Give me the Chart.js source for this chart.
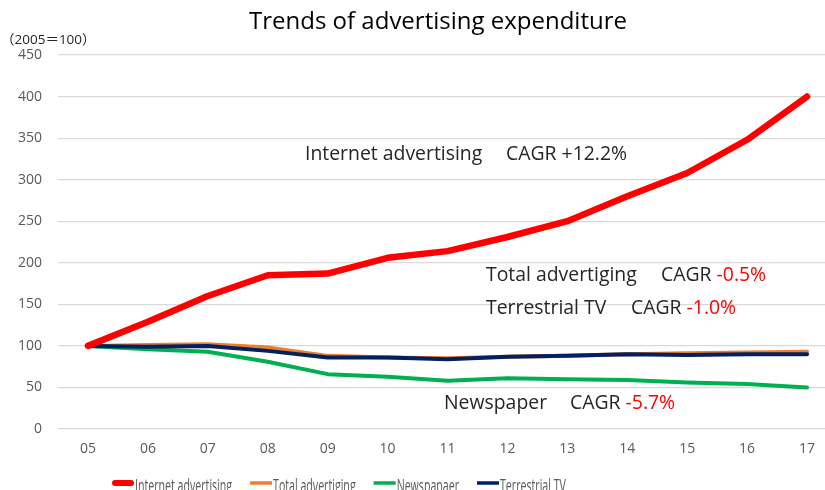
<!DOCTYPE html>
<html>
<head>
<meta charset="utf-8">
<script src="https://cdn.jsdelivr.net/npm/chart.js@4/dist/chart.umd.min.js"></script>
<style>
  html, body { margin: 0; padding: 0; background: #ffffff; overflow: hidden; }
  #wrap { width: 840px; height: 490px; }
</style>
</head>
<body>
<div id="wrap"><canvas id="c" width="840" height="490"></canvas></div>
<script>
// Years (2005 = 100 index)
const years = ['05', '06', '07', '08', '09', '10', '11', '12', '13', '14', '15', '16', '17'];

// Index values per medium
const internetAd    = [100, 129, 160, 185, 187, 206, 214, 231, 250, 280, 308, 348, 400];
const totalAd       = [100, 101, 102, 98, 88, 86, 85, 87, 88, 90, 91, 92, 93];
const newspaper     = [100, 96, 93, 81, 66, 63, 58, 61, 60, 59, 56, 54, 50];
const terrestrialTV = [100, 99, 100, 94, 86, 86, 84, 87, 88, 90, 89, 90, 90];

const seriesNames = ['Internet advertising', 'Total advertiging', 'Newspapaer', 'Terrestrial TV'];

// Y axis ticks
const yTicks = [0, 50, 100, 150, 200, 250, 300, 350, 400, 450];

// CAGR notes: label and growth figure
const noteLabels = ['Internet advertising', 'Total advertiging', 'Terrestrial TV', 'Newspaper'];
const noteCagr   = ['+12.2%', '-0.5%', '-1.0%', '-5.7%'];

const chartTitle = 'Trends of advertising expenditure';
const unitLabel  = '（2005＝100）';

const FONT = '"Open Sans", "Noto Sans", sans-serif';
const colors = ['#ff0000', '#ed7d31', '#00b050', '#002060'];
const widths = [6.5, 4, 4, 4];

// Text overlay: title, unit, CAGR notes, legend
const overlay = {
  id: 'overlay',
  afterDraw(chart) {
    const ctx = chart.ctx;
    ctx.save();

    // title
    ctx.fillStyle = '#000000';
    ctx.font = '24px ' + FONT;
    ctx.textAlign = 'center';
    ctx.textBaseline = 'middle';
    ctx.fillText(chartTitle, 438, 22);

    // unit
    ctx.fillStyle = '#262626';
    ctx.font = '13.5px "Open Sans", "Noto Sans CJK JP", sans-serif';
    ctx.textAlign = 'left';
    ctx.fillText(unitLabel, 1, 40);

    // CAGR notes
    const notePos = [
      { x: 305, cx: 506, y: 154 },
      { x: 486, cx: 661, y: 275 },
      { x: 486, cx: 631, y: 308 },
      { x: 444, cx: 570, y: 403 }
    ];
    ctx.font = '19.4px ' + FONT;
    ctx.textBaseline = 'middle';
    noteLabels.forEach((lab, i) => {
      const p = notePos[i];
      ctx.fillStyle = '#262626';
      ctx.fillText(lab, p.x, p.y);
      const w = ctx.measureText('CAGR ').width;
      ctx.fillText('CAGR ', p.cx, p.y);
      ctx.fillStyle = i === 0 ? '#262626' : '#ff0000';
      ctx.fillText(noteCagr[i], p.cx + w, p.y);
    });

    // legend
    const sx = 0.59;
    let x = 112;
    const ly = 483;
    ctx.font = '18px ' + FONT;
    ctx.textBaseline = 'alphabetic';
    chart.data.datasets.forEach((ds, i) => {
      ctx.strokeStyle = ds.borderColor;
      ctx.lineWidth = i === 0 ? 6 : 3.5;
      ctx.lineCap = i === 0 ? 'round' : 'butt';
      ctx.beginPath();
      ctx.moveTo(x + (i === 0 ? 3 : 0), ly);
      ctx.lineTo(x + 22 - (i === 0 ? 3 : 0), ly);
      ctx.stroke();
      x += 23;
      ctx.save();
      ctx.translate(x, 492);
      ctx.scale(sx, 1);
      ctx.fillStyle = '#595959';
      ctx.fillText(ds.label, 0, 0);
      ctx.restore();
      x += ctx.measureText(ds.label).width * sx + 18;
    });

    ctx.restore();
  }
};

const makeSet = (i, data, order) => ({
  label: seriesNames[i],
  data: data,
  borderColor: colors[i],
  backgroundColor: colors[i],
  borderWidth: widths[i],
  borderCapStyle: 'round',
  borderJoinStyle: 'round',
  pointRadius: 0,
  pointHoverRadius: 0,
  tension: 0,
  fill: false,
  order: order
});

new Chart(document.getElementById('c'), {
  type: 'line',
  data: {
    labels: years,
    datasets: [
      makeSet(0, internetAd, 0),
      makeSet(1, totalAd, 2),
      makeSet(2, newspaper, 3),
      makeSet(3, terrestrialTV, 1)
    ]
  },
  options: {
    responsive: false,
    animation: false,
    layout: { padding: { top: 55, bottom: 30, left: 0, right: 3 } },
    plugins: {
      legend: { display: false },
      title: { display: false },
      tooltip: { enabled: false }
    },
    scales: {
      x: {
        offset: true,
        grid: { display: false, drawTicks: false },
        border: { display: false },
        ticks: {
          color: '#595959',
          font: { family: FONT, size: 14 },
          padding: 12,
          autoSkip: false,
          maxRotation: 0
        },
        afterFit(scale) { scale.height = 31; }
      },
      y: {
        min: 0,
        max: 450,
        afterBuildTicks(scale) { scale.ticks = yTicks.map(v => ({ value: v })); },
        grid: { color: '#d9d9d9', lineWidth: 1.2, drawTicks: false },
        border: { display: false },
        ticks: {
          color: '#595959',
          font: { family: FONT, size: 14 },
          padding: 16
        },
        afterFit(scale) { scale.width = 58; }
      }
    }
  },
  plugins: [overlay]
});
</script>
</body>
</html>
